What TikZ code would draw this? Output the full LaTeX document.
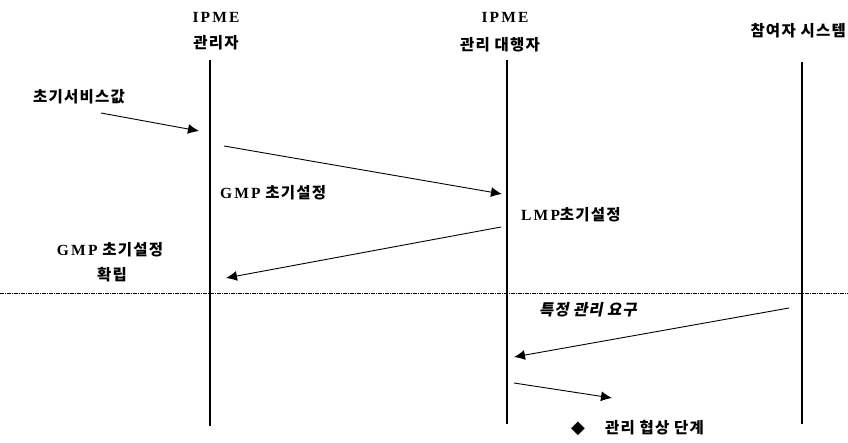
\documentclass[tikz,border=0pt]{standalone}
\usepackage{fontspec}
\setmainfont{Liberation Serif}
\newfontfamily\kr{Noto Sans CJK KR}[LetterSpace=8]
\newfontfamily\krit{Noto Sans CJK KR}[FakeSlant=0.2,LetterSpace=6]
\newfontfamily\lat{Liberation Serif}[LetterSpace=14]
\newfontfamily\sym{DejaVu Sans}
\usetikzlibrary{arrows.meta}
\tikzset{
  lifeline/.style={line width=2.6pt},
  msg/.style={line width=0.9pt,-{Latex[length=11pt,width=10pt]}},
  lbl/.style={inner sep=0pt,font=\fontsize{15.5}{17}\selectfont\bfseries},
  sep/.style={line width=0.7pt,dash pattern=on 4pt off 1pt on 1pt off 1pt}
}
\begin{document}
\begin{tikzpicture}[x=1pt,y=-1pt]
\useasboundingbox (0,0) rectangle (848,443);
% headers
\node[lbl] (h1a) at (216,17) {\lat IPME};
\node[lbl] (h1b) at (216,43) {\kr 관리자};
\node[lbl] (h2a) at (505,17) {\lat IPME};
\node[lbl] (h2b) at (500,45) {\kr 관리 대행자};
\node[lbl,anchor=east] (h3) at (846,31) {\kr 참여자 시스템};
% lifelines
\coordinate (l1t) at (210,60); \coordinate (l1b) at (210,426);
\coordinate (l2t) at (507,60); \coordinate (l2b) at (507,424);
\coordinate (l3t) at (802,62); \coordinate (l3b) at (802,424);
\draw[lifeline] (l1t) -- (l1b);
\draw[lifeline] (l2t) -- (l2b);
\draw[lifeline] (l3t) -- (l3b);
% separator
\coordinate (sl) at (0,293); \coordinate (sr) at (848,293);
\draw[sep] (sl) -- (sr);
% labels
\node[lbl,anchor=west] (init) at (33,97) {\kr 초기서비스값};
\node[lbl,anchor=west] (gmp1) at (220,193) {\lat GMP\kr\ 초기설정};
\node[lbl,anchor=west] (lmp) at (521,215) {\lat LMP\kr 초기설정};
\node[lbl] (gmp2) at (110,250) {\lat GMP\kr\ 초기설정};
\node[lbl] (conf) at (112,275) {\kr 확립};
\node[lbl,anchor=west] (req) at (539,310) {\krit 특정 관리 요구};
\node[lbl,anchor=west] (neg) at (571,428) {{\sym\fontsize{18}{18}\selectfont ◆}\hspace{20pt}\kr 관리 협상 단계};
% arrows
\coordinate (a1s) at (101,113); \coordinate (a1e) at (199,131);
\coordinate (a2s) at (224,146); \coordinate (a2e) at (502,194);
\coordinate (a3s) at (501,227); \coordinate (a3e) at (226,278);
\coordinate (a4s) at (789,308); \coordinate (a4e) at (514,357);
\coordinate (a5s) at (514,383); \coordinate (a5e) at (612,398);
\draw[msg] (a1s) -- (a1e);
\draw[msg] (a2s) -- (a2e);
\draw[msg] (a3s) -- (a3e);
\draw[msg] (a4s) -- (a4e);
\draw[msg] (a5s) -- (a5e);
\end{tikzpicture}
\end{document}
